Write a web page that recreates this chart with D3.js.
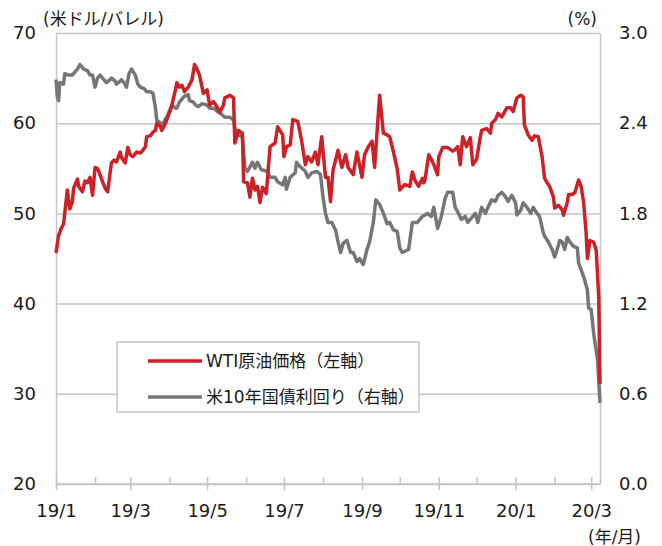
<!DOCTYPE html>
<html>
<head>
<meta charset="utf-8">
<script src="https://cdn.jsdelivr.net/npm/d3@7"></script>
<style>
  body { margin: 0; background: #fff; }
  svg { display: block; }
  text { font-family: "DejaVu Sans", "Noto Sans CJK JP", sans-serif; fill: #1a1a1a; }
</style>
</head>
<body>
<svg id="chart" width="662" height="546"></svg>
<script>
// Data.
const wtiDates = [
  '2019-01-01', '2019-01-03', '2019-01-05', '2019-01-07', '2019-01-10', '2019-01-12', '2019-01-14', '2019-01-15',
  '2019-01-18', '2019-01-19', '2019-01-22', '2019-01-24', '2019-01-26', '2019-01-28', '2019-01-30', '2019-02-01',
  '2019-02-03', '2019-02-05', '2019-02-07', '2019-02-09', '2019-02-11', '2019-02-14', '2019-02-16', '2019-02-18',
  '2019-02-21', '2019-02-22', '2019-02-25', '2019-02-27', '2019-03-01', '2019-03-03', '2019-03-06', '2019-03-09',
  '2019-03-11', '2019-03-13', '2019-03-14', '2019-03-17', '2019-03-19', '2019-03-21', '2019-03-22', '2019-03-25',
  '2019-03-26', '2019-03-29', '2019-03-30', '2019-04-02', '2019-04-03', '2019-04-06', '2019-04-07', '2019-04-09',
  '2019-04-11', '2019-04-13', '2019-04-16', '2019-04-19', '2019-04-21', '2019-04-23', '2019-04-25', '2019-04-28',
  '2019-05-01', '2019-05-03', '2019-05-06', '2019-05-08', '2019-05-11', '2019-05-14', '2019-05-15', '2019-05-18',
  '2019-05-19', '2019-05-22', '2019-05-23', '2019-05-26', '2019-05-29', '2019-05-30', '2019-06-02', '2019-06-04',
  '2019-06-06', '2019-06-08', '2019-06-10', '2019-06-12', '2019-06-14', '2019-06-17', '2019-06-20', '2019-06-24',
  '2019-06-26', '2019-06-30', '2019-07-01', '2019-07-03', '2019-07-06', '2019-07-08', '2019-07-12', '2019-07-15',
  '2019-07-18', '2019-07-20', '2019-07-23', '2019-07-26', '2019-07-28', '2019-07-31', '2019-08-03', '2019-08-05',
  '2019-08-07', '2019-08-09', '2019-08-13', '2019-08-16', '2019-08-19', '2019-08-21', '2019-08-25', '2019-08-28',
  '2019-09-01', '2019-09-03', '2019-09-06', '2019-09-09', '2019-09-11', '2019-09-15', '2019-09-18', '2019-09-21',
  '2019-09-23', '2019-09-26', '2019-09-29', '2019-10-01', '2019-10-05', '2019-10-09', '2019-10-11', '2019-10-13',
  '2019-10-16', '2019-10-19', '2019-10-20', '2019-10-21', '2019-10-24', '2019-10-26', '2019-10-28', '2019-10-31',
  '2019-11-01', '2019-11-04', '2019-11-08', '2019-11-12', '2019-11-14', '2019-11-16', '2019-11-18', '2019-11-20',
  '2019-11-23', '2019-11-26', '2019-11-28', '2019-12-01', '2019-12-04', '2019-12-05', '2019-12-09', '2019-12-12',
  '2019-12-13', '2019-12-16', '2019-12-18', '2019-12-21', '2019-12-25', '2019-12-28', '2019-12-30', '2020-01-02',
  '2020-01-05', '2020-01-07', '2020-01-08', '2020-01-11', '2020-01-14', '2020-01-16', '2020-01-19', '2020-01-22',
  '2020-01-24', '2020-01-26', '2020-01-28', '2020-01-31', '2020-02-01', '2020-02-04', '2020-02-07', '2020-02-08',
  '2020-02-11', '2020-02-12', '2020-02-15', '2020-02-17', '2020-02-20', '2020-02-22', '2020-02-24', '2020-02-26',
  '2020-02-27', '2020-02-29', '2020-03-03', '2020-03-05', '2020-03-07', '2020-03-08'
];
const wtiPrices = [
  45.6, 47.5, 48.3, 48.8, 52.6, 50.5, 51.3, 52.8,
  53.8, 53.0, 52.4, 53.6, 53.4, 54.0, 52.0, 55.1,
  55.0, 54.3, 53.5, 52.8, 52.4, 55.6, 55.9, 55.7,
  56.8, 56.2, 55.6, 57.3, 56.5, 56.3, 56.8, 56.7,
  57.0, 57.4, 58.5, 58.6, 59.0, 59.2, 60.0, 59.6,
  59.2, 60.0, 60.4, 61.5, 62.0, 63.8, 64.5, 64.0,
  64.2, 63.5, 64.0, 64.8, 66.5, 66.0, 65.3, 63.3,
  63.7, 62.0, 62.4, 62.0, 61.2, 62.0, 62.8, 63.0,
  63.1, 62.8, 57.8, 59.2, 58.9, 53.5, 53.4, 51.8,
  53.9, 52.6, 53.0, 51.2, 52.9, 52.2, 57.4, 57.8,
  59.6, 58.7, 56.3, 57.4, 57.6, 60.4, 60.2, 58.1,
  55.4, 56.3, 55.7, 56.8, 55.4, 58.5, 54.0, 54.0,
  51.3, 54.8, 57.0, 55.1, 56.5, 55.1, 54.3, 56.8,
  54.0, 56.5, 57.4, 58.0, 55.1, 63.1, 58.9, 58.7,
  58.5, 56.8, 54.9, 52.6, 53.2, 53.0, 54.6, 53.7,
  53.0, 53.9, 53.4, 53.7, 56.5, 56.0, 55.4, 54.3,
  56.3, 57.3, 57.3, 56.9, 57.1, 57.4, 55.4, 58.5,
  57.4, 58.4, 55.4, 56.0, 58.5, 59.2, 59.4, 58.9,
  60.0, 60.4, 61.1, 60.7, 61.7, 61.7, 61.3, 62.8,
  63.1, 62.9, 59.8, 58.7, 58.1, 58.6, 58.5, 56.3,
  53.9, 53.4, 53.0, 51.8, 50.6, 50.9, 50.4, 49.8,
  51.2, 52.1, 52.1, 52.3, 53.7, 53.0, 51.2, 47.8,
  45.0, 47.0, 46.8, 45.9, 40.7, 31.1
];

const ustDates = [
  '2019-01-01', '2019-01-02', '2019-01-03', '2019-01-04', '2019-01-07', '2019-01-08', '2019-01-11', '2019-01-14',
  '2019-01-18', '2019-01-20', '2019-01-23', '2019-01-26', '2019-01-28', '2019-01-30', '2019-02-01', '2019-02-03',
  '2019-02-05', '2019-02-08', '2019-02-10', '2019-02-13', '2019-02-14', '2019-02-17', '2019-02-18', '2019-02-21',
  '2019-02-22', '2019-02-24', '2019-02-26', '2019-02-28', '2019-03-02', '2019-03-05', '2019-03-07', '2019-03-09',
  '2019-03-12', '2019-03-14', '2019-03-17', '2019-03-19', '2019-03-21', '2019-03-22', '2019-03-25', '2019-03-26',
  '2019-03-29', '2019-03-30', '2019-04-02', '2019-04-03', '2019-04-06', '2019-04-07', '2019-04-09', '2019-04-11',
  '2019-04-13', '2019-04-16', '2019-04-17', '2019-04-20', '2019-04-22', '2019-04-24', '2019-04-27', '2019-05-01',
  '2019-05-03', '2019-05-06', '2019-05-09', '2019-05-11', '2019-05-15', '2019-05-19', '2019-05-22', '2019-05-23',
  '2019-05-26', '2019-05-29', '2019-05-31', '2019-06-02', '2019-06-06', '2019-06-08', '2019-06-10', '2019-06-13',
  '2019-06-18', '2019-06-20', '2019-06-24', '2019-06-26', '2019-06-30', '2019-07-02', '2019-07-03', '2019-07-06',
  '2019-07-10', '2019-07-11', '2019-07-14', '2019-07-18', '2019-07-20', '2019-07-23', '2019-07-27', '2019-07-30',
  '2019-08-01', '2019-08-03', '2019-08-05', '2019-08-08', '2019-08-11', '2019-08-13', '2019-08-15', '2019-08-17',
  '2019-08-20', '2019-08-23', '2019-08-25', '2019-08-28', '2019-08-30', '2019-09-02', '2019-09-05', '2019-09-07',
  '2019-09-10', '2019-09-12', '2019-09-15', '2019-09-18', '2019-09-21', '2019-09-23', '2019-09-26', '2019-09-29',
  '2019-10-01', '2019-10-03', '2019-10-08', '2019-10-11', '2019-10-15', '2019-10-19', '2019-10-23', '2019-10-26',
  '2019-10-28', '2019-10-31', '2019-11-03', '2019-11-06', '2019-11-08', '2019-11-12', '2019-11-14', '2019-11-16',
  '2019-11-19', '2019-11-22', '2019-11-24', '2019-11-27', '2019-11-30', '2019-12-02', '2019-12-05', '2019-12-08',
  '2019-12-10', '2019-12-13', '2019-12-16', '2019-12-18', '2019-12-21', '2019-12-24', '2019-12-26', '2019-12-29',
  '2020-01-01', '2020-01-02', '2020-01-05', '2020-01-07', '2020-01-10', '2020-01-13', '2020-01-15', '2020-01-18',
  '2020-01-20', '2020-01-23', '2020-01-24', '2020-01-27', '2020-01-30', '2020-02-01', '2020-02-03', '2020-02-05',
  '2020-02-07', '2020-02-09', '2020-02-11', '2020-02-13', '2020-02-16', '2020-02-19', '2020-02-20', '2020-02-24',
  '2020-02-27', '2020-02-28', '2020-03-01', '2020-03-03', '2020-03-06', '2020-03-08'
];
const ustYields = [
  2.69, 2.58, 2.55, 2.67, 2.66, 2.73, 2.72, 2.72,
  2.76, 2.79, 2.76, 2.75, 2.72, 2.72, 2.64, 2.70,
  2.72, 2.69, 2.67, 2.69, 2.70, 2.68, 2.66, 2.68,
  2.69, 2.67, 2.64, 2.73, 2.76, 2.72, 2.66, 2.64,
  2.63, 2.61, 2.61, 2.60, 2.50, 2.42, 2.40, 2.38,
  2.43, 2.44, 2.50, 2.52, 2.50, 2.50, 2.54, 2.56,
  2.58, 2.59, 2.55, 2.54, 2.52, 2.51, 2.53, 2.52,
  2.50, 2.50, 2.48, 2.47, 2.44, 2.44, 2.42, 2.37,
  2.32, 2.31, 2.10, 2.08, 2.14, 2.10, 2.14, 2.09,
  2.08, 2.04, 2.04, 2.01, 1.99, 2.04, 1.96, 2.04,
  2.07, 2.14, 2.11, 2.08, 2.04, 2.07, 2.08, 2.06,
  1.91, 1.80, 1.74, 1.74, 1.69, 1.61, 1.54, 1.60,
  1.62, 1.54, 1.54, 1.48, 1.50, 1.46, 1.56, 1.61,
  1.74, 1.89, 1.86, 1.80, 1.73, 1.74, 1.69, 1.68,
  1.57, 1.54, 1.56, 1.74, 1.74, 1.78, 1.80, 1.78,
  1.84, 1.70, 1.78, 1.90, 1.94, 1.94, 1.84, 1.81,
  1.76, 1.78, 1.74, 1.77, 1.80, 1.74, 1.84, 1.80,
  1.84, 1.89, 1.88, 1.92, 1.94, 1.91, 1.88, 1.92,
  1.87, 1.79, 1.82, 1.87, 1.84, 1.80, 1.84, 1.80,
  1.78, 1.67, 1.65, 1.61, 1.56, 1.51, 1.56, 1.62,
  1.61, 1.56, 1.64, 1.61, 1.58, 1.57, 1.47, 1.38,
  1.29, 1.17, 1.16, 1.00, 0.83, 0.54
];

const leftTicks = [20, 30, 40, 50, 60, 70];
const rightTicks = [0, 0.6, 1.2, 1.8, 2.4, 3.0];
const xDomain = ['2019-01-01', '2020-03-08'];
const seriesNames = ['WTI原油価格（左軸）', '米10年国債利回り（右軸）'];
const seriesColors = ['#cc2127', '#767676'];

// Layout
const LEFT = 56, RIGHT = 600, TOP = 33, BOTTOM = 484;
const GRID_COLOR = '#c4c4c4';

const parse = d3.timeParse('%Y-%m-%d');
const svg = d3.select('#chart');

const x = d3.scaleTime().domain(xDomain.map(parse)).range([LEFT, RIGHT]);
const yLeft = d3.scaleLinear().domain([20, 70]).range([BOTTOM, TOP]);
const yRight = d3.scaleLinear().domain([0, 3]).range([BOTTOM, TOP]);

// Horizontal grid lines
svg.append('g')
    .attr('transform', 'translate(' + LEFT + ',0)')
    .call(d3.axisLeft(yLeft).tickValues(leftTicks).tickSize(-(RIGHT - LEFT)).tickFormat(''))
    .call(function(g) { g.select('.domain').remove(); })
    .call(function(g) {
      g.selectAll('line').attr('stroke', GRID_COLOR).attr('stroke-width', 1.5);
    });

// Left axis
svg.append('g')
    .attr('transform', 'translate(' + LEFT + ',0)')
    .call(d3.axisLeft(yLeft).tickValues(leftTicks).tickSize(0).tickPadding(20))
    .call(function(g) {
      g.select('.domain').attr('stroke', GRID_COLOR).attr('stroke-width', 1.5);
      g.selectAll('text').style('font-size', '18px').attr('fill', '#1a1a1a');
    });

// Right axis
svg.append('g')
    .attr('transform', 'translate(' + RIGHT + ',0)')
    .call(d3.axisRight(yRight).tickValues(rightTicks).tickSize(0).tickPadding(19)
        .tickFormat(d3.format('.1f')))
    .call(function(g) {
      g.select('.domain').attr('stroke', GRID_COLOR).attr('stroke-width', 1.5);
      g.selectAll('text').style('font-size', '18px').attr('fill', '#1a1a1a');
    });

// Bottom axis: monthly ticks, labels every two months
const months = d3.timeMonth.range(x.domain()[0], x.domain()[1]);
svg.append('g')
    .attr('transform', 'translate(0,' + BOTTOM + ')')
    .call(d3.axisBottom(x).tickValues(months).tickSize(6).tickPadding(14)
        .tickFormat(function(d) {
          return d.getMonth() % 2 === 0 ? d3.timeFormat('%y/%-m')(d) : '';
        }))
    .call(function(g) {
      g.select('.domain').attr('stroke', GRID_COLOR).attr('stroke-width', 1.5)
          .attr('d', 'M' + LEFT + ',0H' + RIGHT);
      g.selectAll('line')
          .attr('stroke', GRID_COLOR).attr('stroke-width', 1.5)
          .attr('y1', -7)
          .attr('y2', function(d) { return d.getMonth() % 2 === 0 ? 6 : 0; });
      g.selectAll('text').style('font-size', '18px').attr('fill', '#1a1a1a');
    });

// Lines
const wtiLine = d3.line()
    .x(function(d, i) { return x(parse(wtiDates[i])); })
    .y(function(d) { return yLeft(d); });
const ustLine = d3.line()
    .x(function(d, i) { return x(parse(ustDates[i])); })
    .y(function(d) { return yRight(d); });

svg.append('path')
    .attr('d', ustLine(ustYields))
    .attr('fill', 'none')
    .attr('stroke', seriesColors[1])
    .attr('stroke-width', 3.5)
    .attr('stroke-linejoin', 'round');

svg.append('path')
    .attr('d', wtiLine(wtiPrices))
    .attr('fill', 'none')
    .attr('stroke', seriesColors[0])
    .attr('stroke-width', 3.5)
    .attr('stroke-linejoin', 'round');

// Legend
const legend = svg.append('g').attr('transform', 'translate(117,342)');
legend.append('rect')
    .attr('width', 302).attr('height', 70)
    .attr('fill', '#fff').attr('stroke', GRID_COLOR).attr('stroke-width', 1.5);
seriesNames.forEach(function(name, i) {
  const row = legend.append('g').attr('transform', 'translate(0,' + (19 + i * 36) + ')');
  row.append('line')
      .attr('x1', 31).attr('x2', 85)
      .attr('stroke', seriesColors[i]).attr('stroke-width', 3.5);
  row.append('text')
      .attr('x', 89).attr('dy', '0.36em')
      .style('font-size', '17px')
      .text(name);
});

// Unit labels
svg.append('text').attr('x', 43).attr('y', 25).style('font-size', '17px').text('(米ドル/バレル)');
svg.append('text').attr('x', 597).attr('y', 25).attr('text-anchor', 'end').style('font-size', '17px').text('(%)');
svg.append('text').attr('x', 641).attr('y', 543).attr('text-anchor', 'end').style('font-size', '17px').text('(年/月)');
</script>
</body>
</html>
